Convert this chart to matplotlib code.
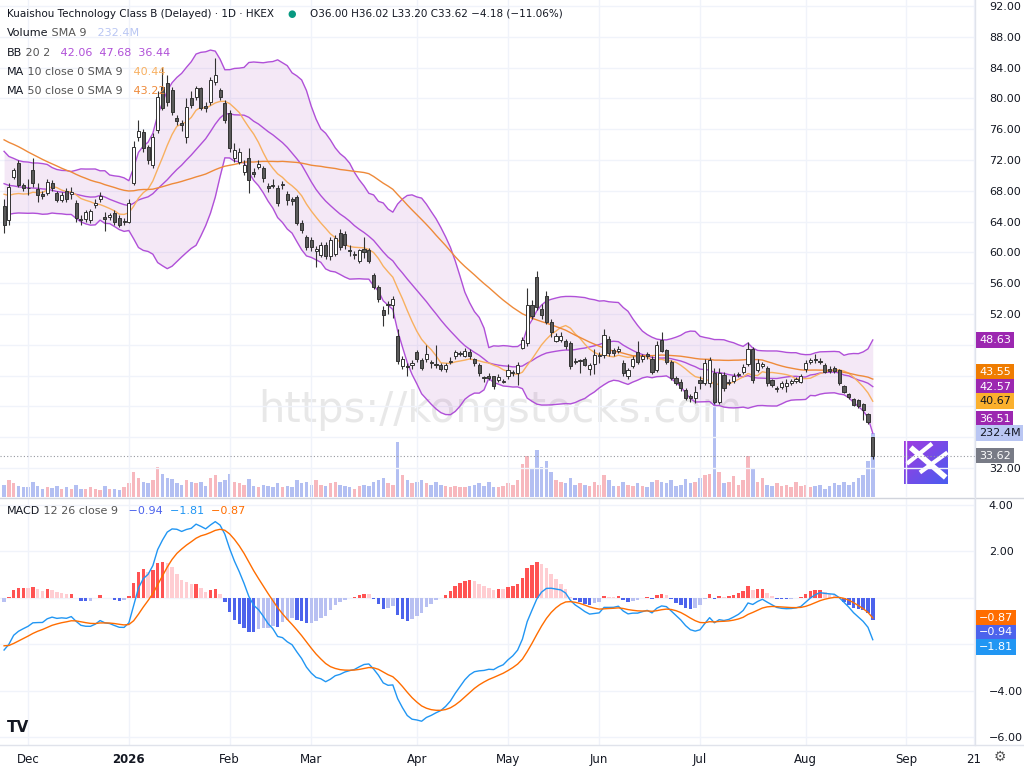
import numpy as np
import pandas as pd
import matplotlib
matplotlib.use("Agg")
import matplotlib.pyplot as plt
from matplotlib.patches import Rectangle

# ---------------- data ----------------
pre_closes = [77,78,79,78.5,80,81,80.5,82,83,82.5, 84,85,84,83.5,85,86,85,84,83,84,
              82,81,82,80,79,80,78,77,78,76, 75,76,74,73,74,72,71,72,70,71,
              72,73,72,71,70,69,70,68,69,70, 71,70,69,68,69,68,67,68,67,66]

opens = [66,64.2,69.8,71.6,68.8,
  68.4,70.7,68.2,67.6,67.7,69,67.7,66.8,68,67.6,66.4,64.4,64.4,64.2,66.2,67,64.6,64.6,65.1,64.5,63.9,
  64,69,75,75.6,73.7,71.4,75.9,81.5,82,81.1,77.4,76.8,75,80,80.2,81.3,79,79.5,82.1,81.1,79.4,
  78.1,72.3,71.8,70.4,72.3,70.5,71.1,71,68.6,68.7,68.4,68.7,67.6,66.9,67.2,63.8,62,
  61.6,60.2,59.7,61,59.5,59.8,62.5,62.4,60.3,59.6,58.9,60.5,60.3,57.1,55.5,52.5,53.2,53.2,49.1,45.2,45.3,45.4,
  47,46,46.1,45.7,45.5,45.4,44.8,45.8,46.5,46.8,46.6,47.1,46.1,45.4,43.8,43.9,43.9,43.4,43.2,
  43.9,44.3,44.3,47.6,48.2,53.2,56.8,52.7,54.4,51,48.5,48.6,48.5,48.2,45.9,45.9,46.1,44.9,45.5,
  46.5,46.7,48.7,47.3,47.2,45.6,43.9,45.2,47.1,46.1,46.8,46.2,44.7,48.6,47.3,45.8,43.7,43.2,42.1,41.3,41.1,
  43.4,43,43,44.3,40.6,44.1,43.1,43.3,44.1,44.5,45.5,47.4,44.7,45.2,45,43.4,42.3,42.5,42.7,43.1,43.3,43.2,
  44.8,45.8,46.1,45.9,45.4,44.8,45,44.7,42.6,41.6,40.9,40.8,40.3,39,36]
highs = [67,69,71,72,69,
  69.5,72.3,69,68,69.5,69.4,68,67.8,68.3,68.5,66.8,64.8,65.5,65.6,67,67.8,65.2,65.1,65.5,64.8,64.5,
  67,74.5,77.2,76,74,75.5,81,84.1,83,81.5,77.8,77.2,80,81,81.6,81.5,79.5,82.8,85.2,81.4,79.8,
  78.5,74.2,73.5,72,73.5,71,72,71.2,69,69.5,68.8,69.3,68,67.2,67.5,64.2,62.3,
  62,60.8,61.4,61.3,62,62.2,63,62.8,61,60.2,60.5,62,60.6,57.3,55.8,53,53.7,54.4,50,46.5,45.6,46,
  47.3,46.3,48,46,48,45.6,45.6,46.4,47.3,47.2,47.6,47.4,46.3,45.6,44,44.4,44,44.2,43.6,
  45.5,44.7,45.8,49,55.4,53.8,57.6,53.3,55,51.3,49.5,49.6,48.8,48.5,46.3,46.2,46.4,45.7,47.5,
  47,50,49.2,47.6,47.8,46,45,46.5,48.5,46.8,47,46.5,48.5,49.7,47.5,46,44,43.5,42.4,41.6,42.7,
  44,46.2,46.4,45,45,44.5,43.6,44.3,44.5,45.5,48.3,47.7,46.2,45.8,45.3,43.6,42.7,43.3,43.5,43.6,43.8,44.2,
  46,46.3,46.8,46.3,45.6,45.2,45.2,44.9,42.8,41.8,41.1,41,40.5,39.2,36.02]
lows = [62.5,63.5,69.5,68.5,68,
  67.5,68.5,66.5,67,67.5,68,66.5,66.5,66.6,67,64,63.5,64,63.8,65.8,66.6,62.8,64.2,63.5,63.3,63.5,
  63.8,68.8,74.5,73,71.5,71,75.5,78.5,79,77.9,76.5,75.8,74.2,78.8,79.8,78.5,78.2,79.2,81.8,79.8,76.8,
  73,71.8,71.5,70,67.7,69.8,70.8,69.2,67.8,68.3,66,68.2,66.2,66.2,63.5,62.5,60.3,
  60.2,58.1,59.4,59.2,59,59.5,60.3,60.5,59.5,59.2,58.6,59.3,58.6,55.2,53.6,50.5,52,51.5,45.5,44.8,44,44.8,
  45.8,44.7,45.8,45,45,44.6,44.5,45.5,46.2,46.5,46.4,46.2,45.3,44,43.2,43.4,42.2,43.2,43,
  43.6,44,42.8,47.4,47.9,51.4,52.5,51.3,50.7,49,48.3,48.4,47.5,44.9,45.5,44.3,45.2,44.1,44.2,
  45.6,46.3,46.6,46.6,46.9,44,43.6,45,45.5,45.8,46.2,44.2,44.5,47,45.5,43.4,42.8,42,40.8,40.6,40.5,
  42.2,42.8,42.5,40.3,40.3,42,42.8,43,43.8,44.2,45.3,43.1,44.5,45,42.7,42.5,41.9,42.2,41.9,42.8,43,43,
  44.5,45.5,45.6,45.5,44.3,44.4,44.3,42.8,41.7,40.9,40,39.8,38.2,37.7,33.2]
closes = [63.5,68.5,70.7,68.8,68.3,
  68.3,69,67.5,67.3,69.1,68.3,66.8,67.5,66.9,67.9,64.5,64.2,65.2,65.4,66.4,67.3,64.4,64.8,63.9,63.6,64.1,
  66.4,73.7,75.8,73.5,72,75,80.2,78.8,79.5,78.2,77.1,76.5,78.9,79.1,81.3,78.8,78.8,82.4,83,80.2,77.2,
  73.6,73.3,73.1,71.4,69.4,70.2,71.5,69.7,68.4,68.6,66.4,68.8,66.8,66.7,63.8,62.9,60.7,
  60.7,60.4,61,59.5,61.6,61.9,60.7,60.9,60.2,59.8,60.3,60,58.9,55.5,53.9,51.9,53.3,54,45.9,46.2,45.1,45.7,
  46.1,45,46.8,45.6,45.4,44.8,45.4,45.9,47.1,46.9,47.2,46.5,45.6,44.3,43.7,43.7,42.6,43.8,43.3,
  44.7,44.4,45.4,48.6,53.2,51.8,52.9,51.9,51,49.6,49.1,49.1,47.8,45.2,45.8,46,45.4,45.4,46.7,
  46.7,49.3,46.9,46.9,47.4,44.3,44.7,46.2,45.8,46.5,46.5,44.5,48,47.2,45.8,43.7,43,42.4,41.1,41.1,41.9,
  43,45.6,46,40.6,44.3,42.4,43.2,43.9,44.2,45.1,47.4,43.4,45.6,45.5,43,42.8,42.4,43,43.1,43.3,43.5,43.9,
  45.6,46,46,45.8,44.5,44.6,44.6,43,41.9,41.2,40.2,40.1,39.5,38,33.62]
volumes = [45,60,50,40,35,
  38,55,40,30,35,32,40,30,35,28,45,30,28,35,30,25,40,28,30,25,35,
  50,90,70,55,50,60,110,85,70,65,50,45,60,55,50,55,40,70,80,55,60,
  85,55,50,45,65,40,35,45,40,35,50,35,40,35,60,50,55,
  45,60,45,40,50,55,45,40,35,30,40,45,40,55,60,70,50,45,200,80,60,50,
  55,60,50,45,55,45,40,35,40,35,35,40,45,50,40,55,35,35,40,
  50,45,60,120,150,100,170,110,130,90,60,55,50,70,45,50,45,40,55,
  45,80,60,40,40,55,45,40,50,40,35,55,60,55,50,60,40,45,65,50,55,
  70,80,85,360,90,50,55,75,45,60,150,100,55,70,45,40,50,40,45,35,55,40,
  45,35,40,45,30,40,50,45,55,45,55,70,80,130,232.4]

hk_holidays = ["2025-12-25","2025-12-26","2026-01-01","2026-02-17","2026-02-18","2026-02-19",
               "2026-04-03","2026-04-06","2026-04-07","2026-05-01","2026-05-25","2026-06-19","2026-07-01"]
month_ticks = ["2025-12-01","2026-01-01","2026-02-01","2026-03-01","2026-04-01","2026-05-01",
               "2026-06-01","2026-07-01","2026-08-01","2026-09-01","2026-09-21"]
month_labels = ["Dec","2026","Feb","Mar","Apr","May","Jun","Jul","Aug","Sep","21"]

n = len(closes)
bday = pd.offsets.CustomBusinessDay(holidays=hk_holidays)
all_dates = pd.date_range("2025-11-24", periods=n + 30, freq=bday)

# ---------------- indicators ----------------
full = pd.Series(pre_closes + closes)
off = len(pre_closes)
ma10 = full.rolling(10).mean().values[off:]
ma50 = full.rolling(50).mean().values[off:]
bb_mid = full.rolling(20).mean()
bb_std = full.rolling(20).std(ddof=0)
bb_up = (bb_mid + 2 * bb_std).values[off:]
bb_lo = (bb_mid - 2 * bb_std).values[off:]
bb_mid = bb_mid.values[off:]
ema12 = full.ewm(span=12, adjust=False).mean()
ema26 = full.ewm(span=26, adjust=False).mean()
macd = (ema12 - ema26)
sig = macd.ewm(span=9, adjust=False).mean()
hist = (macd - sig).values[off:]
macd = macd.values[off:]
sig = sig.values[off:]

# ---------------- figure ----------------
W, H = 1024, 768
fig = plt.figure(figsize=(W / 100, H / 100), dpi=100)
fig.patch.set_facecolor("white")
axw = 975 / W
ax = fig.add_axes([0, 1 - 497 / H, axw, 497 / H])
axm = fig.add_axes([0, 1 - 745 / H, axw, (745 - 499) / H])
axv = ax.twinx()

x = np.arange(n)
xl = (-0.85, 202.3)
grid_c = "#f0f3fa"
txt_c = "#131722"

pos = [int(np.searchsorted(all_dates.values, np.datetime64(pd.Timestamp(d)))) for d in month_ticks]

for a in (ax, axm):
    a.set_xlim(*xl)
    for p in pos:
        a.axvline(p, color=grid_c, lw=1, zorder=0)
    for s in a.spines.values():
        s.set_visible(False)

# price panel
ax.set_ylim(92 - 491 / 7.7, 92 + 6 / 7.7)
pt = list(range(32, 93, 4))
for p in pt:
    ax.axhline(p, color=grid_c, lw=1, zorder=0)
ax.yaxis.tick_right()
shown = [p for p in pt if p not in (36, 40, 44, 48)]
ax.set_yticks(shown)
ax.set_yticklabels([f"{p:.2f}" for p in shown], fontsize=8, color=txt_c)
ax.tick_params(axis="y", length=0, pad=10)
ax.set_xticks([])

# volume
axv.set_ylim(0, 232.4 * 497 / 64)
vcol = ["#f7b8be" if c >= o else "#b3bff2" for o, c in zip(opens, closes)]
axv.bar(x, volumes, width=0.72, color=vcol, zorder=1)
axv.set_yticks([])
for s in axv.spines.values():
    s.set_visible(False)
axv.set_xlim(*xl)
ax.set_zorder(axv.get_zorder() + 1)
ax.patch.set_visible(False)

# bollinger + MAs
bbc = "#b050d8"
ax.fill_between(x, bb_lo, bb_up, color="#9c27b0", alpha=0.10, lw=0, zorder=1)
ax.plot(x, bb_up, color=bbc, lw=1, zorder=2)
ax.plot(x, bb_lo, color=bbc, lw=1, zorder=2)
ax.plot(x, bb_mid, color=bbc, lw=1, zorder=2)
ax.plot(x, ma10, color="#f8b060", lw=1, zorder=2)
ax.plot(x, ma50, color="#ee8a3a", lw=1, zorder=2)

# candles
for i in range(n):
    o, h, l, c = opens[i], highs[i], lows[i], closes[i]
    up = c >= o
    ax.vlines(i, l, h, color="#333333", lw=0.8, zorder=3)
    body = max(abs(c - o), 0.12)
    ax.add_patch(Rectangle((i - 0.32, min(o, c)), 0.64, body,
                           facecolor="white" if up else "#5a5a5a",
                           edgecolor="#333333", lw=0.7, zorder=4))

ax.axhline(closes[-1], color="#9598a1", lw=0.8, ls=(0, (1, 2)), zorder=2)

# ---- right-side value tags (decluttered in pixel space) ----
def place_tags(items, gap=14.5):
    out = []
    for it in items:  # given in top-to-bottom order
        y = it[0]
        if out and y - out[-1][0] < gap:
            y = out[-1][0] + gap
        out.append((y,) + tuple(it[1:]))
    for y, s, fc, tc in out:
        fig.text(979 / W, 1 - y / H, s, fontsize=8, color=tc, va="center", ha="left",
                 bbox=dict(boxstyle="square,pad=0.25", fc=fc, ec="none"), zorder=10)

def py(a, v):
    return H - a.transData.transform((0, v))[1]

fig.canvas.draw()
renderer = fig.canvas.get_renderer()
yvol = py(axv, volumes[-1])
place_tags([
    (py(ax, bb_up[-1]), f"{bb_up[-1]:.2f}", "#9c27b0", "white"),
    (py(ax, ma50[-1]) - 7, f"{ma50[-1]:.2f}", "#ef7c00", "white"),
    (py(ax, bb_mid[-1]), f"{bb_mid[-1]:.2f}", "#9c27b0", "white"),
    (py(ax, ma10[-1]), f"{ma10[-1]:.2f}", "#fbb02d", txt_c),
    (min(py(ax, bb_lo[-1]), yvol - 14.5), f"{bb_lo[-1]:.2f}", "#9c27b0", "white"),
    (yvol, "232.4M", "#b9c6f3", txt_c),
])
place_tags([(py(ax, closes[-1]), f"{closes[-1]:.2f}", "#787b86", "white")])

# watermark
fig.text(500 / W, 1 - 410 / H, "https://kongstocks.com", fontsize=30, color="#e6e6e6",
         ha="center", va="center", zorder=0, alpha=0.9)

# logo square
lax = fig.add_axes([904 / W, 1 - 485 / H, 44 / W, 45 / H])
grad = np.linspace(0, 1, 64)[None, :] + np.linspace(0, 1, 64)[:, None]
lax.imshow(grad, cmap=matplotlib.colors.LinearSegmentedColormap.from_list("lg", ["#a23be0", "#4a5cf0"]),
           extent=(0, 1, 0, 1))
lax.plot([0.2, 0.9], [0.8, 0.2], color="white", lw=4)
lax.plot([0.1, 0.6], [0.5, 0.9], color="white", lw=3)
lax.plot([0.4, 0.95], [0.3, 0.7], color="white", lw=3)
lax.set_xlim(0, 1); lax.set_ylim(0, 1); lax.axis("off")

# header (fit to reference widths)
def fit_text(xp, yp, s, target_w, fs, color):
    t = fig.text(xp / W, 1 - yp / H, s, fontsize=fs, color=color, va="center")
    w = t.get_window_extent(renderer).width
    t.set_fontsize(fs * target_w / w)
    return t

fit_text(7, 14, "Kuaishou Technology Class B (Delayed) · 1D · HKEX", 266, 9, txt_c)
fig.text(292 / W, 1 - 14 / H, "●", fontsize=7, color="#089981", va="center", ha="center")
fit_text(310, 14, "O36.00 H36.02 L33.20 C33.62 −4.18 (−11.06%)", 250, 8.5, txt_c)
legend_rows = [
    (33, [("Volume", txt_c), (" SMA 9", "#555"), ("   232.4M", "#b9c6f3")]),
    (53, [("BB", txt_c), (" 20 2", "#555"), ("   42.06  47.68  36.44", "#b050d8")]),
    (72, [("MA", txt_c), (" 10 close 0 SMA 9", "#555"), ("   40.44", "#f8b060")]),
    (91, [("MA", txt_c), (" 50 close 0 SMA 9", "#555"), ("   43.22", "#ee8a3a")]),
]
for yy, parts in legend_rows:
    xx = 7
    for s, col in parts:
        t = fig.text(xx / W, 1 - yy / H, s, fontsize=8, color=col, va="center")
        xx += t.get_window_extent(renderer).width

# MACD panel
axm.set_ylim(4 - (745 - 505) / 23.2, 4 + 6 / 23.2)
for v in (4, 2, 0, -2, -4, -6):
    axm.axhline(v, color=grid_c, lw=1, zorder=0)
axm.yaxis.tick_right()
mt = [4, 2, -4, -6]
axm.set_yticks(mt)
axm.set_yticklabels([f"{v:.2f}".replace("-", "−") for v in mt], fontsize=8, color=txt_c)
axm.tick_params(axis="y", length=0, pad=10)
hc = []
for i in range(n):
    prev = hist[i - 1] if i > 0 else hist[i]
    if hist[i] >= 0:
        hc.append("#ff5252" if hist[i] >= prev else "#ffcdd2")
    else:
        hc.append("#4c63ec" if hist[i] < prev else "#b8c0f2")
axm.bar(x, hist, width=0.72, color=hc, zorder=1)
axm.plot(x, macd, color="#2196f3", lw=1, zorder=2)
axm.plot(x, sig, color="#ff6d00", lw=1, zorder=2)
axm.set_xticks(pos)
axm.set_xticklabels(month_labels, fontsize=8.5, color=txt_c)
for lbl in axm.get_xticklabels():
    if lbl.get_text() == "2026":
        lbl.set_fontweight("bold")
axm.tick_params(axis="x", length=0, pad=6)
fig.canvas.draw()
fm = lambda v: f"{v:.2f}".replace("-", "−")
mtags = sorted([
    (py(axm, sig[-1]), fm(sig[-1]), "#ff6d00", "white"),
    (py(axm, hist[-1]), fm(hist[-1]), "#4c63ec", "white"),
    (py(axm, macd[-1]), fm(macd[-1]), "#2196f3", "white"),
], key=lambda t: t[0])
place_tags(mtags)

xx = 7
for s, col in [("MACD", txt_c), (" 12 26 close 9", "#555"),
               ("   " + fm(hist[-1]), "#4c63ec"),
               ("  " + fm(macd[-1]), "#2196f3"),
               ("  " + fm(sig[-1]), "#ff6d00")]:
    t = fig.text(xx / W, 1 - 511 / H, s, fontsize=8, color=col, va="center")
    xx += t.get_window_extent(renderer).width

# separators
fig.add_artist(plt.Line2D([0, 1], [1 - 497.5 / H] * 2, color="#d1d4dc", lw=1))
fig.add_artist(plt.Line2D([axw, axw], [1 - 745 / H, 1], color="#e0e3eb", lw=1))
fig.add_artist(plt.Line2D([0, 1], [1 - 745 / H] * 2, color="#e0e3eb", lw=1))

fig.text(18 / W, 1 - 727 / H, "TV", fontsize=11, fontweight="bold", color=txt_c, va="center", ha="center")
fig.text(1000 / W, 1 - 757 / H, "⚙", fontsize=10, color="#555", va="center", ha="center")

fig.savefig("out.png", dpi=100)
